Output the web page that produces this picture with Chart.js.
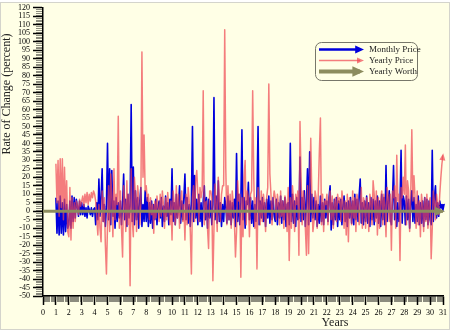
<!DOCTYPE html>
<html>
<head>
<meta charset="utf-8">
<script src="https://cdn.jsdelivr.net/npm/chart.js@4.4.0/dist/chart.umd.min.js"></script>
<style>
  html, body { margin: 0; padding: 0; background: #fff; }
</style>
</head>
<body>
<canvas id="rateChart" width="450" height="335"></canvas>
<script>
// monthly samples, first one at year 1.0, last one at year 31.0
var startYear = 1;
var monthly = [
  8, -13, 6, -14, 9, -13, 5, -14, 7, -12, 4, -10,
  -8, 6, -10, 9, -6, 8, -4, 7, 3, -3, 6, -2,
  5, -2, 4, -3, 2, -4, 3, 1, -2, 2, -3, 1,
  2, -8, 5, -5, 19, -3, 8, 25, -6, 4, -9, 3,
  40, -5, 25, -8, 24, -3, 6, -10, 8, -6, 5, -4,
  6, -8, 4, 22, -5, 7, -9, 10, -4, 3, 63, -6,
  26, -8, 12, -5, 8, -10, 6, 14, -9, 4, -6, 12,
  -6, 8, -9, 5, -7, 6, -10, 4, -5, 7, -8, 3,
  6, -4, 8, -9, 3, -6, 9, -3, 5, -8, 7, -2,
  25, -6, 5, -8, 10, -4, 3, 15, -7, 6, -5, 8,
  22, -5, 8, -7, 4, -9, 6, 50, -6, 21, -4, 7,
  -8, 10, -6, 5, -9, 6, 15, -5, 8, -10, 7, -4,
  6, -8, 4, 67, -5, 9, -7, 18, -6, 5, -9, 4,
  -6, 8, 3, -7, 9, -5, 6, -8, 5, -4, 7, -9,
  34, -6, 10, -8, 5, 48, -5, 8, -10, 6, 4, 17,
  -5, 8, -7, 6, -9, 4, -6, 10, 50, -8, 6, -4,
  8, -6, 5, -9, 7, -4, 9, -7, 6, -5, 8, -3,
  -6, 7, -8, 5, -4, 9, -7, 6, -5, 8, -9, 4,
  5, -8, 40, -6, 10, -7, 6, -9, 8, -5, -4, 32,
  -6, 8, -5, 12, -9, 6, 25, -8, 35, -6, 10, -4,
  8, -5, 6, -9, 4, -7, 9, -6, 5, -8, 7, -4,
  6, -6, 8, 15, -11, 5, -8, 7, -5, 8, -9, 6,
  -5, 7, -8, 4, 9, -6, 5, -9, 6, -4, 8, -7,
  6, -8, 10, -5, 7, -6, 9, 19, -7, 5, -8, 6,
  -6, 9, -7, 5, -9, 8, -5, 7, -8, 6, -4, 9,
  -7, 6, -9, 10, -5, 8, -8, 27, -6, 5, 12, -4,
  -8, 6, 27, -5, 8, -9, 5, -6, 4, 36, -7, 9,
  6, -8, 9, -5, 7, -10, 5, 12, -6, 8, -7, 4,
  -6, 9, -8, 5, -7, 6, -9, 8, -5, 7, -8, 6,
  -5, -8, 36, -6, 8, 15, -4, 5, -3, 6, 2, 4,
  1
];
var yearly = [
  28, 5, 30, -3, 31, 2, 31, -5, 26, 0, 18, -12,
  -15, 14, -17, 8, -10, 5, -6, 6, 4, -2, 7, 3,
  6, 9, 3, 10, 5, 11, 4, 10, 6, 11, 8, 12,
  10, 6, -4, -14, 4, -10, -18, 12, -6, 8, -20, -37,
  -8, 15, -12, 22, 8, -15, 25, -5, 10, 4, 56, -10,
  12, -10, -27, 15, 5, -12, 18, -8, 10, -44, 25, -5,
  -15, 20, 10, -12, 15, 8, -8, 5, 94, 20, 45, 12,
  15, 6, 10, -5, 8, -2, 4, -13, 6, -4, 9, 2,
  -6, 10, -3, 12, 4, -10, 8, -5, 11, 2, -8, 6,
  -17, 12, 5, -8, 15, -4, 10, -10, 6, 12, -6, 4,
  -17, 10, -8, 14, 6, -12, -37, 8, 15, -6, 18, 24,
  10, -6, 14, 8, 12, 71, -8, 5, 6, -10, -22, 12,
  12, 8, -41, -10, 16, 5, -12, 20, 8, -6, 10, 15,
  15, 107, 25, -8, 15, -5, 10, -10, 12, 4, -6, -27,
  -12, 18, 6, 10, -39, 8, -15, 20, 30, -8, 12, 8,
  -15, 10, 12, 71, 20, -10, 8, -34, 14, 6, -8, 12,
  -6, 10, 4, -12, 8, 14, 75, 22, 10, -8, 6, 12,
  8, -5, 10, 4, -8, 12, -3, 6, -10, 9, 5, -12,
  14, -29, 8, -10, 15, 6, -12, 10, 4, 12, -26, 53,
  20, -8, 12, 6, -10, -26, 15, -25, 8, 43, 10, -12,
  -6, 12, 8, -10, 10, 35, 55, -8, 10, -12, 6, 4,
  10, -8, 6, 12, -5, 9, -10, 4, 8, -6, 10, 5,
  8, -6, 12, 5, -10, 6, -14, 10, -18, 8, 4, -8,
  12, -4, 8, -12, 10, 6, -8, 4, 14, -10, 8, 5,
  -10, 8, 4, -12, 10, 6, -8, 18, 10, -6, 12, -14,
  8, -10, 6, 12, -8, 10, 4, -15, 14, 8, -6, 10,
  -23, 12, 8, 15, -10, 33, 6, 10, -29, 14, 8, 20,
  10, 39, -8, 18, 12, -12, 10, 48, 6, 21, 8, -10,
  12, -8, 6, -15, 10, 4, -12, 8, -6, 10, -10, 5,
  8, -28, -10, 12, 6, -5, 10, 4, -2, 10, 20, 28,
  33
];
var worthYears = [0, 1, 2, 3, 4, 5, 6, 7, 8, 9, 10, 11, 12, 13, 14, 15, 16, 17, 18, 19, 20, 21, 22, 23, 24, 25, 26, 27, 28, 29, 30, 31];
var worth = [0, 0, 0, 0, 0, 0, 0, 0, 0, 0, 0, 0, 0, 0, 0, 0, 0, 0, 0, 0, 0, 0, 0, 0, 0, 0, 0, 0, 0, 0, 0, 0];
var yearTicks = [0, 1, 2, 3, 4, 5, 6, 7, 8, 9, 10, 11, 12, 13, 14, 15, 16, 17, 18, 19, 20, 21, 22, 23, 24, 25, 26, 27, 28, 29, 30, 31];
var rateTicks = [-50, -45, -40, -35, -30, -25, -20, -15, -10, -5, 0, 5, 10, 15, 20, 25, 30, 35, 40, 45, 50, 55, 60, 65, 70, 75, 80, 85, 90, 95, 100, 105, 110, 115, 120];

var blue = '#0000dd';
var pink = 'rgba(240, 70, 80, 0.7)';
var olive = '#8c8c5e';
var serif = '"Liberation Serif", "Times New Roman", serif';

function monthPoints(arr) {
  return arr.map(function (v, i) { return { x: startYear + i / 12, y: v }; });
}

function arrowHead(ctx, x0, y0, x1, y1, color, len, half) {
  var a = Math.atan2(y1 - y0, x1 - x0);
  var c = Math.cos(a), s = Math.sin(a);
  var tx = x1 + c * 2, ty = y1 + s * 2;
  var bx = tx - c * len, by = ty - s * len;
  ctx.fillStyle = color;
  ctx.beginPath();
  ctx.moveTo(tx, ty);
  ctx.lineTo(bx - s * half, by + c * half);
  ctx.lineTo(bx + s * half, by - c * half);
  ctx.closePath();
  ctx.fill();
}

var decor = {
  id: 'decor',
  beforeDraw: function (chart) {
    var ctx = chart.ctx;
    ctx.save();
    ctx.fillStyle = '#ffffff';
    ctx.fillRect(0, 0, chart.width, chart.height);
    ctx.fillStyle = 'rgb(255, 255, 230)';
    ctx.fillRect(0, 2, chart.width, 328);
    ctx.strokeStyle = '#d4d4cc';
    ctx.lineWidth = 1;
    ctx.strokeRect(0.5, 2.5, chart.width - 1, 327);
    ctx.restore();
  },
  afterDraw: function (chart) {
    var ctx = chart.ctx;
    var area = chart.chartArea;
    var xs = chart.scales.x, ys = chart.scales.y;
    ctx.save();

    // minor ticks
    ctx.strokeStyle = 'rgba(0, 0, 0, 0.45)';
    ctx.lineWidth = 1;
    ctx.beginPath();
    for (var v = -50; v <= 120; v++) {
      if (v % 5 === 0) continue;
      var py = Math.round(ys.getPixelForValue(v)) + 0.5;
      ctx.moveTo(area.left - 7, py);
      ctx.lineTo(area.left, py);
    }
    for (var m = 0; m <= 31 * 12; m++) {
      if (m % 12 === 0) continue;
      var px = Math.round(xs.getPixelForValue(m / 12)) + 0.5;
      ctx.moveTo(px, area.bottom);
      ctx.lineTo(px, area.bottom + 6);
    }
    ctx.stroke();

    // end arrows
    chart.data.datasets.forEach(function (ds, i) {
      var pts = chart.getDatasetMeta(i).data;
      var n = pts.length;
      arrowHead(ctx, pts[n - 2].x, pts[n - 2].y, pts[n - 1].x, pts[n - 1].y,
        ds.borderColor, ds.borderWidth * 2 + 4, ds.borderWidth + 1.5);
    });

    // axis titles
    ctx.fillStyle = '#222';
    ctx.font = '12px ' + serif;
    ctx.textAlign = 'center';
    ctx.textBaseline = 'middle';
    ctx.fillText('Years', 335, 323);
    ctx.save();
    ctx.translate(7, 94);
    ctx.rotate(-Math.PI / 2);
    ctx.fillText('Rate of Change (percent)', 0, 0);
    ctx.restore();

    // legend
    ctx.strokeStyle = '#77776a';
    ctx.lineWidth = 1;
    ctx.beginPath();
    ctx.roundRect(315.5, 42.5, 102, 38, 6);
    ctx.stroke();
    ctx.font = '9px ' + serif;
    ctx.textAlign = 'left';
    chart.data.datasets.forEach(function (ds, i) {
      var ly = 49.5 + i * 11;
      var w = ds.borderWidth + (i === 1 ? 0 : 0.8);
      ctx.strokeStyle = ds.borderColor;
      ctx.lineWidth = w;
      ctx.beginPath();
      ctx.moveTo(319, ly);
      ctx.lineTo(360, ly);
      ctx.stroke();
      arrowHead(ctx, 350, ly, 362, ly, ds.borderColor, w * 2 + 4, w + 1.5);
      ctx.fillStyle = '#222';
      ctx.fillText(ds.label, 369, ly + 0.5);
    });
    ctx.restore();
  }
};

var options = {
  responsive: false,
  animation: false,
  devicePixelRatio: 1,
  layout: {
    padding: { top: 6, right: 4, left: 0, bottom: 0 }
  },
  elements: {
    point: { radius: 0 },
    line: { tension: 0, borderJoinStyle: 'round' }
  },
  plugins: {
    legend: { display: false },
    tooltip: { enabled: false }
  },
  scales: {
    x: {
      type: 'linear',
      min: 0,
      max: 31,
      afterBuildTicks: function (s) { s.ticks = yearTicks.map(function (v) { return { value: v }; }); },
      afterFit: function (s) { s.height = 39; },
      ticks: { autoSkip: false, maxRotation: 0, padding: 3, color: '#000', font: { family: serif, size: 8 } },
      grid: { drawOnChartArea: false, tickLength: 9, tickWidth: 1.5, tickColor: '#000' },
      border: { color: '#000', width: 1.5 }
    },
    y: {
      min: -50,
      max: 120,
      afterBuildTicks: function (s) { s.ticks = rateTicks.map(function (v) { return { value: v }; }); },
      afterFit: function (s) { s.width = 43; },
      ticks: { autoSkip: false, padding: 3, color: '#000', font: { family: serif, size: 8 } },
      grid: { drawOnChartArea: false, tickLength: 10, tickWidth: 1.5, tickColor: '#000' },
      border: { color: '#000', width: 1.5 }
    }
  }
};

var chart = new Chart(document.getElementById('rateChart'), {
  type: 'line',
  data: {
    datasets: [{
      label: 'Monthly Price',
      data: monthPoints(monthly),
      borderColor: blue,
      borderWidth: 1.6,
      order: 3
    }, {
      label: 'Yearly Price',
      data: monthPoints(yearly),
      borderColor: pink,
      borderWidth: 1.5,
      order: 2
    }, {
      label: 'Yearly Worth',
      data: worthYears.map(function (y, i) { return { x: y, y: worth[i] }; }),
      borderColor: olive,
      borderWidth: 3,
      order: 1
    }]
  },
  options: options,
  plugins: [decor]
});
</script>
</body>
</html>
